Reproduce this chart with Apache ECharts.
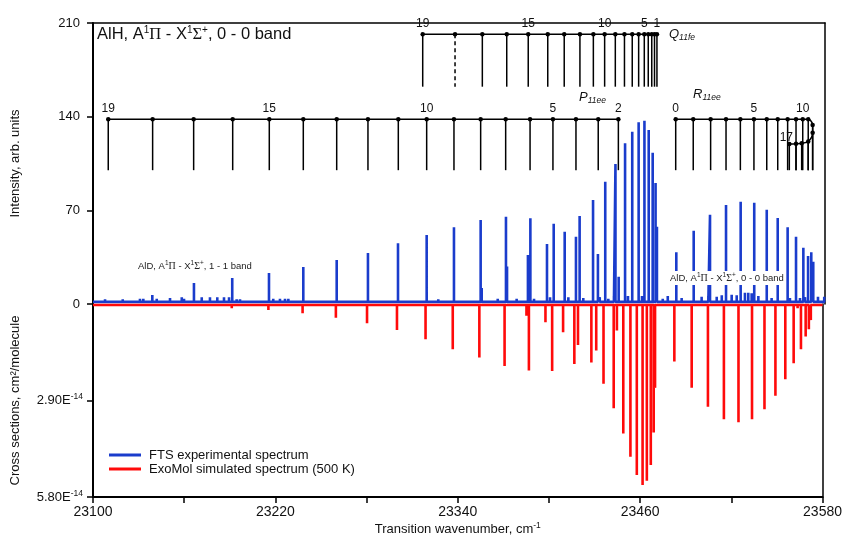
<!DOCTYPE html>
<html>
<head>
<meta charset="utf-8">
<script src="https://cdn.jsdelivr.net/npm/echarts@6/dist/echarts.min.js"></script>
<style>
  html, body { margin: 0; padding: 0; background: #fff; }
  #chart { width: 845px; height: 538px; }
</style>
</head>
<body>
<div id="chart"></div>
<script>
// main lines: wavenumber (cm-1), FTS intensity (arb. units), ExoMol cross section (x 1e-14 cm2/molecule)
const lineX = [23110.0, 23138.9, 23166.2, 23191.3, 23215.4, 23237.9, 23259.8, 23280.3, 23300.0, 23318.8,
  23336.7, 23354.2, 23370.8, 23385.2, 23386.8, 23397.7, 23402.1, 23409.3, 23416.7, 23419.1,
  23427.9, 23431.1, 23435.9, 23442.6, 23444.7, 23448.9, 23453.6, 23457.8, 23461.6, 23464.4,
  23467.0, 23468.9, 23469.8, 23482.5, 23493.9, 23504.6, 23515.1, 23524.7, 23533.6, 23541.8,
  23549.0, 23555.5, 23561.0, 23565.8, 23568.9, 23571.0, 23572.3];
const ftsIntensity = [3.0, 6.7, 15.7, 19.4, 23.2, 27.7, 32.9, 38.1, 45.4, 51.6,
  57.3, 62.8, 65.2, 36.6, 64.1, 44.8, 60.0, 54.0, 50.3, 65.8,
  77.7, 37.4, 91.4, 104.6, 20.4, 120.1, 128.8, 135.8, 137.0, 130.0,
  113.1, 90.4, 57.8, 38.6, 54.8, 66.7, 74.0, 76.5, 75.7, 70.5,
  64.3, 57.3, 50.3, 42.1, 35.9, 38.6, 31.6];
const exomolCross = [0.06, 0.08, 0.08, 0.13, 0.18, 0.28, 0.41, 0.58, 0.78, 1.06,
  1.36, 1.61, 1.86, 0.35, 2.00, 0.55, 2.01, 0.85, 1.80, 1.23,
  1.76, 1.40, 2.40, 3.13, 0.80, 3.89, 4.59, 5.14, 5.44, 5.31,
  4.84, 3.86, 2.52, 1.73, 2.52, 3.09, 3.46, 3.55, 3.46, 3.16,
  2.76, 2.26, 1.78, 1.36, 0.98, 0.76, 0.48];

// weak features in the FTS spectrum
const weakX = [23107.9, 23119.5, 23122.1, 23130.8, 23133.0, 23141.8, 23150.5, 23158.2, 23159.7, 23171.3,
  23176.7, 23181.5, 23185.9, 23189.2, 23194.2, 23196.4, 23218.2, 23222.6, 23225.9, 23228.1,
  23311.1, 23326.4, 23339.3, 23354.9, 23365.4, 23371.5, 23377.8, 23389.2, 23399.7, 23411.7,
  23421.5, 23432.3, 23437.9, 23441.6, 23450.8, 23460.0, 23473.6, 23476.9, 23486.0, 23499.1,
  23503.5, 23509.0, 23512.3, 23518.8, 23522.1, 23527.5, 23529.7, 23531.9, 23536.3, 23545.0,
  23557.0, 23563.6, 23566.9, 23575.4, 23579.5];
const weakIntensity = [3.5, 3.5, 3, 4, 4, 4, 4.5, 5, 4, 5,
  5, 5, 5, 5, 3.5, 3.5, 4, 4, 4, 4,
  3, 3.5, 3, 12, 4, 28, 4, 4, 5, 5,
  4.5, 5, 4, 6, 6, 6, 4, 6, 4.5, 5.5,
  6, 5.5, 6.5, 7, 6.5, 8.5, 8.5, 8, 6, 4.5,
  4.5, 4.5, 5, 5.5, 5.5];
const weakRedX = [23293.0, 23316.6, 23558.1, 23563.6];
const weakRedCross = [0.04, 0.08, 0.08, 0.13];

// assignment ladders
const pLadderJ = [19, 18, 17, 16, 15, 14, 13, 12, 11, 10, 9, 8, 7, 6, 5, 4, 3, 2];
const pLadderX = [23110.0, 23139.1, 23166.0, 23191.6, 23215.6, 23237.9, 23259.8, 23280.3, 23300.2, 23318.8,
  23336.7, 23354.2, 23370.6, 23386.6, 23401.6, 23416.7, 23431.3, 23444.5];
const pLabels = [19, 15, 10, 5, 2];

const qLadderJ = [19, 18, 17, 16, 15, 14, 13, 12, 11, 10, 9, 8, 7, 6, 5, 4, 3, 2, 1];
const qLadderX = [23316.2, 23337.4, 23355.3, 23371.3, 23385.4, 23398.2, 23409.0, 23419.3, 23428.1, 23435.5,
  23442.5, 23448.5, 23453.6, 23457.8, 23461.5, 23464.1, 23466.4, 23468.2, 23469.8];
const qLabels = [19, 15, 10, 5, 1];
const qDashed = [18];

const rLadderJ = [0, 1, 2, 3, 4, 5, 6, 7, 8, 9, 10, 11, 12, 13, 14, 15, 16, 17];
const rLadderX = [23482.1, 23493.6, 23505.0, 23515.1, 23524.5, 23533.4, 23541.8, 23549.0, 23555.5, 23561.0,
  23565.4, 23569.0, 23571.9, 23571.9, 23569.0, 23564.7, 23561.0, 23556.6];
const rLadderY = [138, 138, 138, 138, 138, 138, 138, 138, 138, 138,
  138, 138, 133.8, 128.0, 121.4, 120.1, 119.8, 119.6];
const rLabels = [0, 5, 10, 17];

const pLevel = 138, pFoot = 100;
const qLevel = 201.6, qFoot = 162.4;
const rFoot = 100;

const SANS = 'Liberation Sans, Arial, sans-serif';
const SERIF = 'Liberation Serif, Times New Roman, serif';
const BLUE = '#1a3ccc';
const RED = '#ff0a0a';

function sticks(xs, ys, base) {
  const pts = xs.map((x, i) => [x, ys[i]]).sort((a, b) => a[0] - b[0]);
  const data = [[23100, base]];
  pts.forEach(([x, y]) => { data.push([x, base], [x, y], [x, base]); });
  data.push([23580, base]);
  return data;
}

function ladder(xs, ys, js, labelled) {
  return xs.map((x, i) => {
    const item = { value: [x, ys[i]] };
    if (labelled.includes(js[i])) {
      item.label = { show: true, formatter: String(js[i]) };
      if (js[i] === 17 && ys[i] < 130) item.label.offset = [-3, 4];
    }
    return item;
  });
}

const rungs = [];
pLadderX.forEach(x => rungs.push([x, pLevel, pFoot, 0]));
qLadderX.forEach((x, i) => rungs.push([x, qLevel, qFoot, qDashed.includes(qLadderJ[i]) ? 1 : 0]));
rLadderX.forEach((x, i) => rungs.push([x, rLadderY[i], rFoot, 0]));

function renderRung(params, api) {
  const a = api.coord([api.value(0), api.value(1)]);
  const b = api.coord([api.value(0), api.value(2)]);
  return {
    type: 'line',
    shape: { x1: a[0], y1: a[1], x2: b[0], y2: b[1] },
    style: { stroke: '#000', lineWidth: 1.5, lineDash: api.value(3) ? [4, 3] : null }
  };
}

const ladderStyle = {
  type: 'line', xAxisIndex: 0, yAxisIndex: 0,
  symbol: 'circle', symbolSize: 4.5, silent: true, z: 6,
  lineStyle: { color: '#000', width: 1.5 },
  itemStyle: { color: '#000' },
  label: { position: 'top', distance: 2, fontSize: 12, color: '#111', fontFamily: SANS }
};

const supRich = {
  t: { fontFamily: SANS, fontSize: 16.5, lineHeight: 19, fill: '#111' },
  g: { fontFamily: SERIF, fontSize: 16.5, lineHeight: 19, fill: '#111' },
  u: { fontFamily: SANS, fontSize: 10, lineHeight: 10, verticalAlign: 'top', fill: '#111' }
};
const smallRich = {
  t: { fontFamily: SANS, fontSize: 9.5, lineHeight: 12, fill: '#222' },
  g: { fontFamily: SERIF, fontSize: 10, lineHeight: 12, fill: '#222' },
  u: { fontFamily: SANS, fontSize: 6.5, lineHeight: 7, verticalAlign: 'top', fill: '#222' }
};
const branchRich = {
  b: { fontFamily: SANS, fontSize: 13, fontStyle: 'italic', lineHeight: 16, fill: '#111' },
  s: { fontFamily: SANS, fontSize: 8.5, fontStyle: 'italic', lineHeight: 9, verticalAlign: 'bottom', fill: '#111' }
};

const chart = echarts.init(document.getElementById('chart'));

chart.setOption({
  animation: false,
  backgroundColor: '#fff',
  textStyle: { fontFamily: SANS },
  grid: [
    { left: 93, right: 20, top: 23, height: 281 },
    { left: 93, right: 20, top: 304, height: 193 }
  ],
  legend: {
    left: 104, top: 443, orient: 'vertical', icon: 'rect',
    itemWidth: 32, itemHeight: 3, itemGap: 0,
    textStyle: { fontFamily: SANS, fontSize: 13, color: '#111', lineHeight: 14, padding: [0, 0, 0, 3] },
    data: ['FTS experimental spectrum', 'ExoMol simulated spectrum (500 K)']
  },
  xAxis: [
    {
      gridIndex: 0, type: 'value', min: 23100, max: 23580, position: 'top',
      axisLine: { onZero: false, lineStyle: { color: '#000', width: 1.5 } },
      axisTick: { show: false }, axisLabel: { show: false }, splitLine: { show: false }
    },
    {
      gridIndex: 1, type: 'value', min: 23100, max: 23580, interval: 120, position: 'bottom',
      name: '{a|Transition wavenumber, cm}{s|-1}', nameLocation: 'middle', nameGap: 24,
      nameTextStyle: {
        rich: {
          a: { fontFamily: SANS, fontSize: 13, color: '#111', lineHeight: 16 },
          s: { fontFamily: SANS, fontSize: 8.5, color: '#111', lineHeight: 9, verticalAlign: 'top' }
        }
      },
      axisLine: { onZero: false, lineStyle: { color: '#000', width: 2 } },
      axisTick: { length: 6, lineStyle: { color: '#000', width: 1.5 } },
      minorTick: { show: true, splitNumber: 2, length: 6, lineStyle: { color: '#000', width: 1.5 } },
      axisLabel: { color: '#111', fontSize: 14, margin: 8, formatter: v => String(v) },
      splitLine: { show: false }, minorSplitLine: { show: false }
    }
  ],
  yAxis: [
    {
      gridIndex: 0, type: 'value', min: 0, max: 210, interval: 70,
      name: 'Intensity, arb. units', nameLocation: 'middle', nameGap: 71,
      nameTextStyle: { fontSize: 13, color: '#111' },
      axisLine: { onZero: false, lineStyle: { color: '#000', width: 2 } },
      axisTick: { length: 6, lineStyle: { color: '#000', width: 1.5 } },
      axisLabel: { color: '#111', fontSize: 13, margin: 13, formatter: v => String(v) },
      splitLine: { show: false }
    },
    {
      gridIndex: 1, type: 'value', min: 0, max: 5.8, interval: 2.9, inverse: true,
      name: 'Cross sections, cm\u00b2/molecule', nameLocation: 'middle', nameGap: 71,
      nameTextStyle: { fontSize: 13, color: '#111' },
      axisLine: { onZero: false, lineStyle: { color: '#000', width: 2 } },
      axisTick: { length: 6, lineStyle: { color: '#000', width: 1.5 } },
      axisLabel: {
        showMinLabel: false, margin: 10,
        formatter: v => (v === 0 ? '' : '{m|' + v.toFixed(2) + 'E}{s|-14}'),
        rich: {
          m: { fontFamily: SANS, fontSize: 13, color: '#111', lineHeight: 16 },
          s: { fontFamily: SANS, fontSize: 8.5, color: '#111', lineHeight: 8, verticalAlign: 'top' }
        }
      },
      splitLine: { show: false }
    },
    {
      gridIndex: 0, type: 'value', min: 0, max: 210, position: 'right',
      axisLine: { onZero: false, lineStyle: { color: '#000', width: 1.5 } },
      axisTick: { show: false }, axisLabel: { show: false }, splitLine: { show: false }
    },
    {
      gridIndex: 1, type: 'value', min: 0, max: 5.8, position: 'right',
      axisLine: { onZero: false, lineStyle: { color: '#000', width: 1.5 } },
      axisTick: { show: false }, axisLabel: { show: false }, splitLine: { show: false }
    }
  ],
  series: [
    {
      name: 'FTS experimental spectrum', type: 'line', xAxisIndex: 0, yAxisIndex: 0,
      data: sticks(lineX.concat(weakX), ftsIntensity.concat(weakIntensity), 1.6),
      showSymbol: false, symbol: 'none', color: BLUE, z: 3,
      lineStyle: { color: BLUE, width: 2.6, join: 'bevel' }
    },
    {
      name: 'ExoMol simulated spectrum (500 K)', type: 'line', xAxisIndex: 1, yAxisIndex: 1,
      data: sticks(lineX.concat(weakRedX), exomolCross.concat(weakRedCross), 0.03),
      showSymbol: false, symbol: 'none', color: RED, z: 3,
      lineStyle: { color: RED, width: 2.6, join: 'bevel' }
    },
    {
      type: 'custom', xAxisIndex: 0, yAxisIndex: 0, silent: true, z: 5,
      renderItem: renderRung, data: rungs, encode: { x: 0, y: [1, 2] }
    },
    Object.assign({}, ladderStyle, { data: ladder(pLadderX, pLadderX.map(() => pLevel), pLadderJ, pLabels) }),
    Object.assign({}, ladderStyle, { data: ladder(qLadderX, qLadderX.map(() => qLevel), qLadderJ, qLabels) }),
    Object.assign({}, ladderStyle, { smooth: 0.35, data: ladder(rLadderX, rLadderY, rLadderJ, rLabels) })
  ],
  graphic: [
    {
      type: 'text', left: 97, top: 25, silent: true, z: 10,
      style: { text: '{t|AlH, A}{u|1}{g|\u03a0}{t| - X}{u|1}{g|\u03a3}{u|+}{t|, 0 - 0 band}', rich: supRich }
    },
    {
      type: 'text', left: 138, top: 260, silent: true, z: 10,
      style: { text: '{t|AlD, A}{u|1}{g|\u03a0}{t| - X}{u|1}{g|\u03a3}{u|+}{t|, 1 - 1 band}', rich: smallRich }
    },
    {
      type: 'text', left: 669, top: 271, silent: true, z: 10,
      style: {
        text: '{t|AlD, A}{u|1}{g|\u03a0}{t| - X}{u|1}{g|\u03a3}{u|+}{t|, 0 - 0 band}', rich: smallRich,
        backgroundColor: '#fff', padding: [1, 1, 1, 1]
      }
    },
    {
      type: 'text', left: 579, top: 91, silent: true, z: 10,
      style: { text: '{b|P}{s|11ee}', rich: branchRich }
    },
    {
      type: 'text', left: 693, top: 88, silent: true, z: 10,
      style: { text: '{b|R}{s|11ee}', rich: branchRich }
    },
    {
      type: 'text', left: 669, top: 28, silent: true, z: 10,
      style: { text: '{b|Q}{s|11fe}', rich: branchRich }
    }
  ]
});
</script>
</body>
</html>
